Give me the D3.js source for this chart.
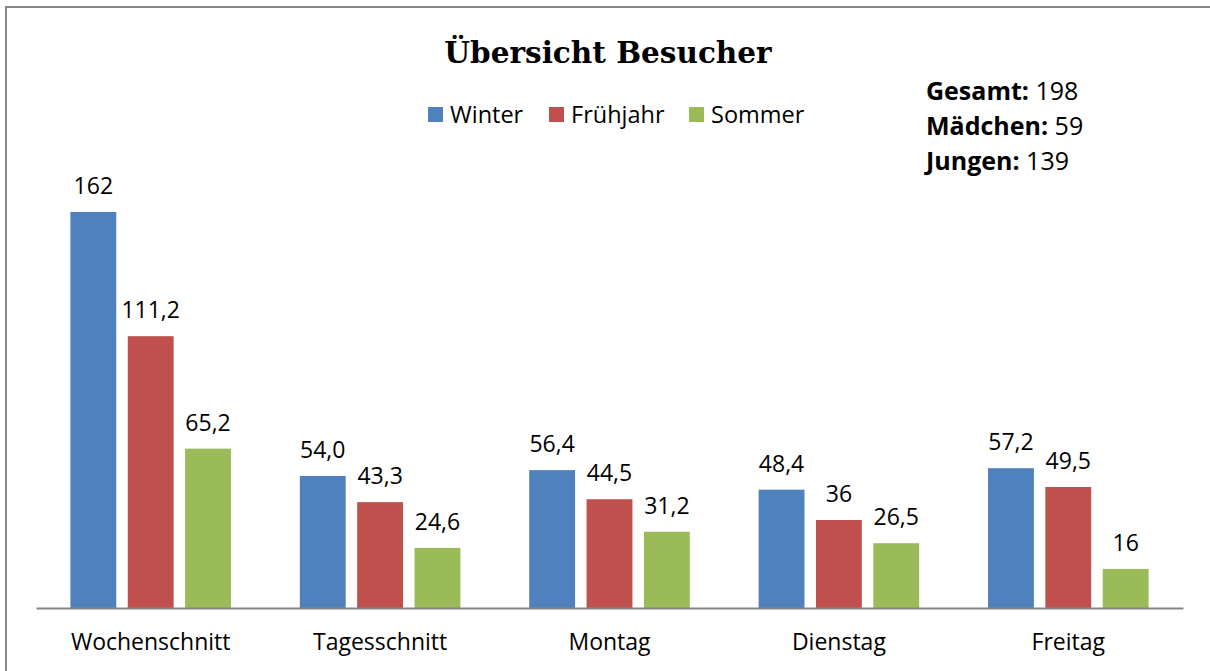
<!DOCTYPE html>
<html>
<head>
<meta charset="utf-8">
<script src="https://cdn.jsdelivr.net/npm/d3@7"></script>
<style>
  body { margin: 0; background: #fff; }
  svg text { font-family: "Open Sans", sans-serif; fill: #000; }
</style>
</head>
<body>
<svg id="chart" width="1210" height="671"></svg>
<script>
// chart data
var categories = ["Wochenschnitt", "Tagesschnitt", "Montag", "Dienstag", "Freitag"];
var seriesNames = ["Winter", "Frühjahr", "Sommer"];
var winter = [162, 54.0, 56.4, 48.4, 57.2];
var fruehjahr = [111.2, 43.3, 44.5, 36, 49.5];
var sommer = [65.2, 24.6, 31.2, 26.5, 16];
var winterLabels = ["162", "54,0", "56,4", "48,4", "57,2"];
var fruehjahrLabels = ["111,2", "43,3", "44,5", "36", "49,5"];
var sommerLabels = ["65,2", "24,6", "31,2", "26,5", "16"];
var infoKeys = ["Gesamt:", "Mädchen:", "Jungen:"];
var infoValues = [198, 59, 139];

var colors = ["#4F81BD", "#C0504D", "#9BBB59"];
var seriesValues = [winter, fruehjahr, sommer];
var seriesLabels = [winterLabels, fruehjahrLabels, sommerLabels];

var svg = d3.select("#chart");

// outer frame (only top + left visible in the picture)
svg.append("rect")
  .attr("x", 6).attr("y", 7)
  .attr("width", 1220).attr("height", 700)
  .attr("fill", "none")
  .attr("stroke", "#868686")
  .attr("stroke-width", 2);

var x0 = d3.scaleBand()
  .domain(categories)
  .range([36, 1183]);

var x1 = d3.scaleBand()
  .domain(seriesNames)
  .range([0, x0.bandwidth()])
  .paddingInner(0.2)
  .paddingOuter(0.6);

var y = d3.scaleLinear()
  .domain([0, 180])
  .range([608, 168]);

// flatten rows for the bars
var rows = [];
categories.forEach(function(cat, i) {
  seriesNames.forEach(function(s, j) {
    rows.push({cat: cat, series: s, value: seriesValues[j][i], label: seriesLabels[j][i], color: colors[j]});
  });
});

var g = svg.append("g");

g.selectAll("rect.bar")
  .data(rows)
  .enter().append("rect")
    .attr("class", "bar")
    .attr("x", function(d) { return x0(d.cat) + x1(d.series); })
    .attr("y", function(d) { return y(d.value); })
    .attr("width", x1.bandwidth())
    .attr("height", function(d) { return y(0) - y(d.value); })
    .attr("fill", function(d) { return d.color; });

g.selectAll("text.val")
  .data(rows)
  .enter().append("text")
    .attr("class", "val")
    .attr("x", function(d) { return x0(d.cat) + x1(d.series) + x1.bandwidth() / 2; })
    .attr("y", function(d) { return y(d.value) - 18; })
    .attr("text-anchor", "middle")
    .style("font-size", "23px")
    .text(function(d) { return d.label; });

// category axis
var xAxis = svg.append("g")
  .attr("transform", "translate(0," + y(0) + ")")
  .call(d3.axisBottom(x0).tickSize(0).tickPadding(26));
xAxis.select(".domain")
  .attr("stroke", "#868686")
  .attr("stroke-width", 2);
xAxis.selectAll("text")
  .attr("fill", "#000")
  .style("font-family", "'Open Sans', sans-serif")
  .style("font-size", "23px");

// title
svg.append("text")
  .attr("x", 608)
  .attr("y", 63)
  .attr("text-anchor", "middle")
  .style("font-family", "'DejaVu Serif', serif")
  .style("font-weight", "bold")
  .style("font-size", "29.5px")
  .text("Übersicht Besucher");

// legend
var legendX = [428, 549, 689];
var legend = svg.selectAll("g.legend")
  .data(seriesNames)
  .enter().append("g")
    .attr("class", "legend")
    .attr("transform", function(d, i) { return "translate(" + legendX[i] + ",0)"; });
legend.append("rect")
  .attr("x", 0).attr("y", 107)
  .attr("width", 15).attr("height", 15)
  .attr("fill", function(d, i) { return colors[i]; });
legend.append("text")
  .attr("x", 22).attr("y", 123)
  .style("font-size", "23.5px")
  .text(function(d) { return d; });

// info box
var info = svg.selectAll("text.info")
  .data(infoKeys)
  .enter().append("text")
    .attr("class", "info")
    .attr("x", 926)
    .attr("y", function(d, i) { return 100 + i * 35; })
    .style("font-size", "25px");
info.append("tspan")
  .style("font-weight", "bold")
  .text(function(d) { return d; });
info.append("tspan")
  .text(function(d, i) { return " " + infoValues[i]; });
</script>
</body>
</html>
